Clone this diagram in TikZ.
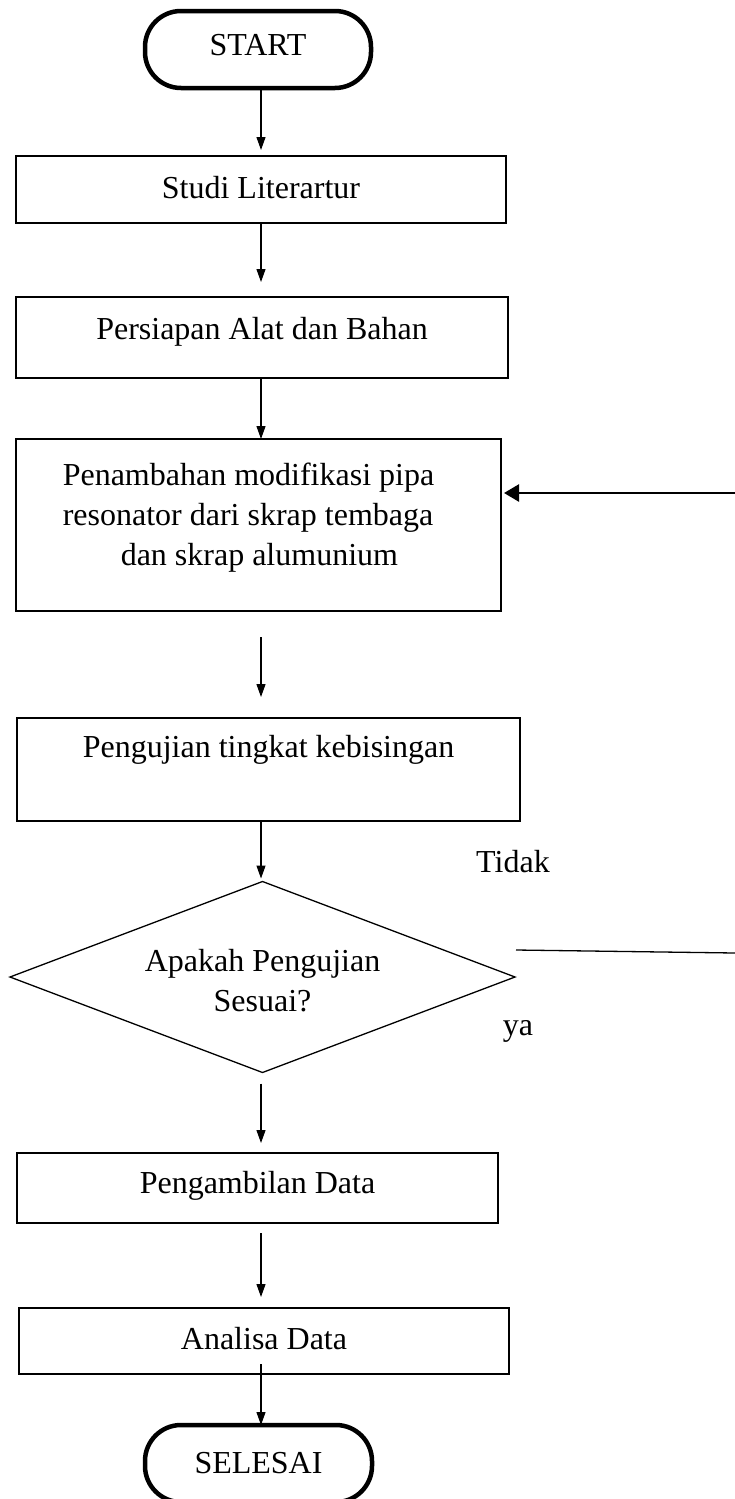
\documentclass[tikz,border=0pt]{standalone}
\usepackage{fontspec}
\setmainfont{Liberation Serif}
\usetikzlibrary{arrows.meta,shapes.geometric}
\newcommand\flowfont{\fontsize{32}{40}\selectfont}
\begin{document}
\begin{tikzpicture}[x=1pt,y=-1pt,
  every node/.style={font=\flowfont, inner sep=0pt, outer sep=0pt},
  procbox/.style={draw, line width=1.3pt, rectangle, anchor=north west},
  termbox/.style={draw, line width=4.5pt, rectangle, rounded corners=36pt, anchor=north west},
  decbox/.style={draw, line width=1.3pt, shape=diamond, aspect=2.64,
                 minimum width=505pt, minimum height=191pt},
  flowarrow/.style={line width=1.2pt, -{Triangle[length=13pt,width=9pt]}},
  backarrow/.style={line width=2.5pt, -{Triangle[length=15pt,width=17pt]}},
  plainline/.style={line width=1.3pt},
  lbl/.style={}
]
\clip (0,0) rectangle (735,1499);
\useasboundingbox (0,0) rectangle (735,1499);

\coordinate (ax) at (261,0);

\node[termbox, minimum width=226pt, text height=44pt, text depth=33pt] (start) at (145,11) {START};
\node[procbox, minimum width=490pt, text height=42pt, text depth=25pt] (studi) at (16,156) {Studi Literartur};
\node[procbox, minimum width=492pt, text height=42pt, text depth=39pt] (persiapan) at (16,297) {Persiapan Alat dan Bahan};
\node[procbox, minimum width=485pt, text height=126pt, text depth=46pt] (penambahan) at (16,439)
  {\begin{tabular}[b]{@{}l@{\hspace{20pt}}}Penambahan modifikasi pipa\\ resonator dari skrap tembaga\\ \hspace*{58pt}dan skrap alumunium\end{tabular}};
\node[procbox, minimum width=503pt, text height=39pt, text depth=64pt] (pengujian) at (17,718) {Pengujian tingkat kebisingan};
\node[decbox, text height=68pt, text depth=0pt] (sesuai) at (262.5,977)
  {\begin{tabular}[b]{@{}c@{}}Apakah Pengujian\\ Sesuai?\end{tabular}};
\node[procbox, minimum width=481pt, text height=40pt, text depth=30pt] (pengambilan) at (17,1153) {Pengambilan Data};
\node[procbox, minimum width=490pt, text height=41pt, text depth=25pt] (analisa) at (19,1308) {Analisa Data};
\node[termbox, minimum width=227pt, text height=48pt, text depth=29pt] (selesai) at (145,1425) {SELESAI};

\node[lbl] (tidak) at (513,862) {Tidak};
\node[lbl] (ya) at (518,1031) {ya};

% vertical flow
\draw[flowarrow, shorten >=6pt] (start.south -| ax) -- (studi.north -| ax);
\draw[flowarrow, shorten >=15pt] (studi.south -| ax) -- (persiapan.north -| ax);
\draw[flowarrow] (persiapan.south -| ax) -- (penambahan.north -| ax);
\draw[flowarrow, shorten <=26pt, shorten >=21pt] (penambahan.south -| ax) -- (pengujian.north -| ax);
\draw[flowarrow, shorten >=3pt] (pengujian.south -| ax) -- (sesuai.north -| ax);
\draw[flowarrow, shorten <=11pt, shorten >=10pt] (sesuai.south -| ax) -- (pengambilan.north -| ax);
\draw[flowarrow, shorten <=10pt, shorten >=11pt] (pengambilan.south -| ax) -- (analisa.north -| ax);
\draw[flowarrow, shorten <=-10pt] (analisa.south -| ax) -- (selesai.north -| ax);

% feedback
\coordinate (fbright) at (735,493);
\draw[backarrow, shorten >=3pt] (fbright) -- (penambahan.east |- fbright);

\coordinate (nostart) at (516,950);
\coordinate (noend) at (735,953);
\draw[plainline] (nostart) -- (noend);
\end{tikzpicture}
\end{document}
